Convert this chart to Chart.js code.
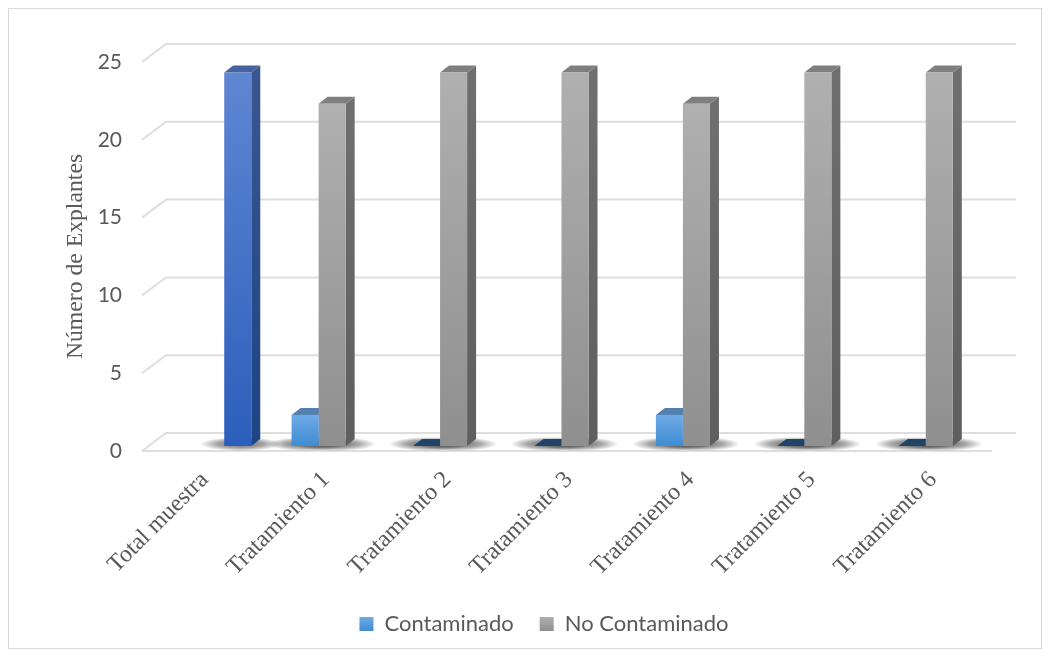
<!DOCTYPE html>
<html>
<head>
<meta charset="utf-8">
<title>Número de Explantes</title>
<script src="https://cdn.jsdelivr.net/npm/chart.js@4"></script>
<style>
  html, body { margin: 0; padding: 0; background: #fff; overflow: hidden; }
  #wrap { position: relative; width: 1055px; height: 656px; }
  #frame { position: absolute; left: 8px; top: 8px; width: 1032px; height: 639px; border: 1px solid #d9d9d9; }
  canvas { position: absolute; left: 0; top: 0; }
</style>
</head>
<body>
<div id="wrap">
  <div id="frame"></div>
  <canvas id="chart" width="1055" height="656"></canvas>
</div>
<script>
const categories = ['Total muestra', 'Tratamiento 1', 'Tratamiento 2', 'Tratamiento 3', 'Tratamiento 4', 'Tratamiento 5', 'Tratamiento 6'];
const contaminado = [null, 2, 0, 0, 2, 0, 0];
const noContaminado = [null, 22, 24, 24, 22, 24, 24];
const totalMuestra = [24, null, null, null, null, null, null];
const gridValues = [0, 5, 10, 15, 20, 25];

// bar depth and wall geometry of the fake 3D look
const DEPTH_X = 9, DEPTH_Y = 7;
const BAR_LIFT = 5;
const WALL_X = 24, WALL_Y = 18;

const FACES = {
  contaminado: { top: '#6faae6', bottom: '#3f8cd2', sideTop: '#4a78a6', sideBottom: '#2f6aa0', cap: '#5380ae' },
  noContaminado: { top: '#b0b0b0', bottom: '#8f8f8f', sideTop: '#6f6f6f', sideBottom: '#5e5e5e', cap: '#7f7f7f' },
  total: { top: '#5f86d2', bottom: '#2b5fbb', sideTop: '#3a5690', sideBottom: '#1d4484', cap: '#46639f' },
};
const ZERO_CAP = '#1f4468';

function gradient(chart, y0, y1, top, bottom) {
  const g = chart.ctx.createLinearGradient(0, y0, 0, y1);
  g.addColorStop(0, top);
  g.addColorStop(1, bottom);
  return g;
}

function frontFill(face) {
  return ctx => {
    if (ctx.raw === null || ctx.raw === undefined) return 'transparent';
    const y = ctx.chart.scales.y;
    const py = y.getPixelForValue(ctx.raw), base = y.getPixelForValue(0);
    // the legend asks for options before the scales have been laid out
    if (!isFinite(py) || !isFinite(base)) return face.bottom;
    return gradient(ctx.chart, py, base, face.top, face.bottom);
  };
}

function eachBar(chart, fn) {
  chart.getSortedVisibleDatasetMetas().forEach(meta => {
    const face = chart.data.datasets[meta.index].face;
    meta.data.forEach((bar, i) => {
      const v = chart.data.datasets[meta.index].data[i];
      if (v !== null) fn(bar, v, face);
    });
  });
}

const wallsAndDepth = {
  id: 'wallsAndDepth',
  beforeDatasetsDraw(chart) {
    const { ctx, chartArea, scales: { y } } = chart;
    const x0 = chartArea.left - 8, x1 = x0 + 850;

    // grid: stub on the side wall, long line on the back wall
    ctx.save();
    ctx.strokeStyle = '#dedede';
    ctx.lineWidth = 2;
    gridValues.forEach(v => {
      const py = y.getPixelForValue(v);
      ctx.beginPath();
      ctx.moveTo(x0, py);
      ctx.lineTo(x0 + WALL_X, py - WALL_Y);
      ctx.lineTo(x1 + WALL_X, py - WALL_Y);
      ctx.stroke();
    });
    ctx.beginPath();
    ctx.moveTo(x0, y.getPixelForValue(0));
    ctx.lineTo(x1, y.getPixelForValue(0));
    ctx.stroke();
    ctx.restore();

    ctx.save();
    ctx.translate(0, -BAR_LIFT);

    // floor shadow under each bar
    eachBar(chart, bar => {
      const cx = bar.x + 3, cy = bar.base - 2;
      const rx = bar.width / 2 + 27, ry = 7;
      ctx.save();
      ctx.translate(cx, cy);
      ctx.scale(rx, ry);
      const g = ctx.createRadialGradient(0, 0, 0.1, 0, 0, 1);
      g.addColorStop(0, 'rgba(40,40,40,0.7)');
      g.addColorStop(0.55, 'rgba(40,40,40,0.4)');
      g.addColorStop(1, 'rgba(40,40,40,0)');
      ctx.fillStyle = g;
      ctx.beginPath();
      ctx.arc(0, 0, 1, 0, Math.PI * 2);
      ctx.fill();
      ctx.restore();
    });

    // side and cap faces; the fronts are painted by the bar elements afterwards
    eachBar(chart, (bar, v, face) => {
      const l = bar.x - bar.width / 2, r = bar.x + bar.width / 2;
      if (v > 0) {
        ctx.fillStyle = gradient(chart, bar.y, bar.base, face.sideTop, face.sideBottom);
        ctx.beginPath();
        ctx.moveTo(r, bar.y);
        ctx.lineTo(r + DEPTH_X, bar.y - DEPTH_Y);
        ctx.lineTo(r + DEPTH_X, bar.base - DEPTH_Y);
        ctx.lineTo(r, bar.base);
        ctx.closePath();
        ctx.fill();
      }
      ctx.fillStyle = v > 0 ? face.cap : ZERO_CAP;
      ctx.beginPath();
      ctx.moveTo(l, bar.y);
      ctx.lineTo(l + DEPTH_X, bar.y - DEPTH_Y);
      ctx.lineTo(r + DEPTH_X, bar.y - DEPTH_Y);
      ctx.lineTo(r, bar.y);
      ctx.closePath();
      ctx.fill();
    });
  },
  afterDatasetsDraw(chart) {
    chart.ctx.restore();
  },
  afterLayout(chart) {
    // legend sits right of the canvas centre and a little higher than its box
    chart.legend.left += 13;
    chart.legend.right += 13;
    chart.legend.top -= 11;
  },
};

new Chart(document.getElementById('chart'), {
  type: 'bar',
  data: {
    labels: categories,
    datasets: [
      { label: 'Contaminado', data: contaminado, face: FACES.contaminado, backgroundColor: frontFill(FACES.contaminado) },
      { label: 'No Contaminado', data: noContaminado, face: FACES.noContaminado, backgroundColor: frontFill(FACES.noContaminado) },
      { label: 'Total', data: totalMuestra, face: FACES.total, backgroundColor: frontFill(FACES.total) },
    ],
  },
  options: {
    responsive: false,
    animation: false,
    categoryPercentage: 0.668,
    barPercentage: 1,
    layout: { padding: { top: 62, left: 62, right: 55, bottom: 0 } },
    scales: {
      x: {
        grid: { display: false },
        border: { display: false },
        afterFit(scale) { scale.height = 147; },
        ticks: {
          autoSkip: false,
          minRotation: 45,
          maxRotation: 45,
          padding: 7,
          labelOffset: -6,
          color: '#595959',
          font: { family: '"Liberation Serif"', size: 24 },
        },
      },
      y: {
        min: 0,
        max: 25,
        afterFit(scale) { scale.width = 88; },
        grid: { display: false },
        border: { display: false },
        ticks: {
          stepSize: 5,
          padding: 20,
          color: '#595959',
          font: { family: 'Lato', size: 21 },
        },
        title: {
          display: true,
          text: 'Número de Explantes',
          color: '#595959',
          padding: 0,
          font: { family: '"Liberation Serif"', size: 23.7 },
        },
      },
    },
    plugins: {
      tooltip: { enabled: false },
      legend: {
        position: 'bottom',
        labels: {
          boxWidth: 14,
          boxHeight: 14,
          padding: 26,
          color: '#595959',
          font: { family: 'Lato', size: 22 },
          generateLabels(chart) {
            return Chart.defaults.plugins.legend.labels.generateLabels(chart)
              .filter(item => item.text !== 'Total')
              .map(item => {
                const face = chart.data.datasets[item.datasetIndex].face;
                item.fillStyle = gradient(chart, 617, 631, face.top, face.bottom);
                item.lineWidth = 0;
                return item;
              });
          },
        },
      },
    },
  },
  plugins: [wallsAndDepth],
});
</script>
</body>
</html>
